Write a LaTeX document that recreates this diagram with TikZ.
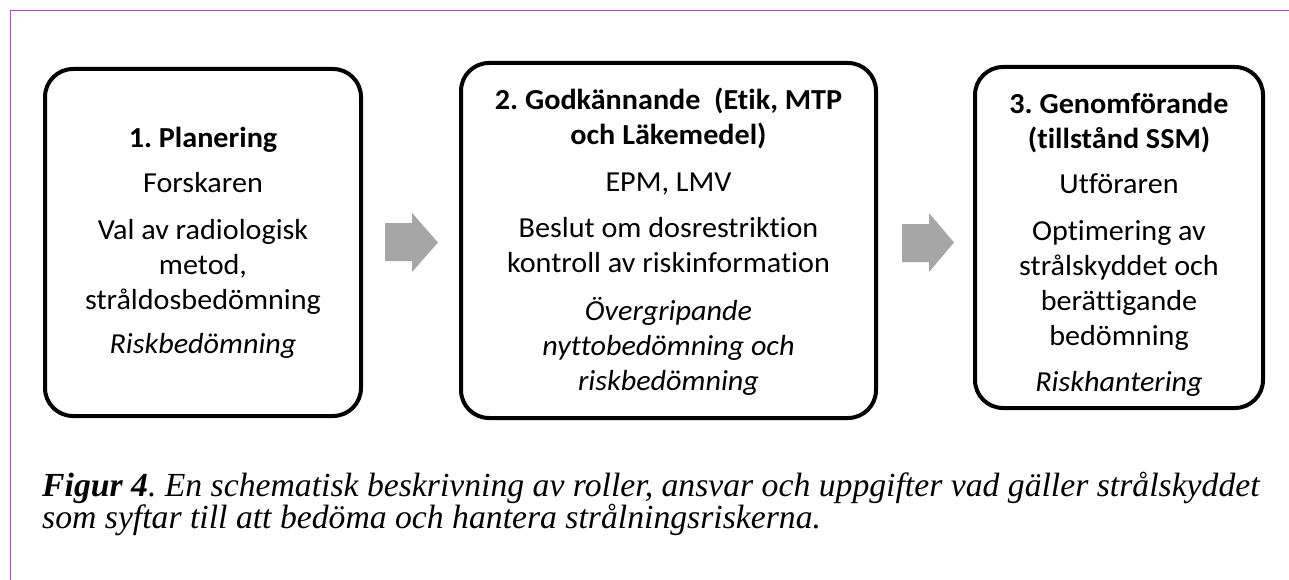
\documentclass[tikz,border=0pt]{standalone}
\usepackage{fontspec}
\setmainfont[Ligatures=NoCommon,FakeStretch=1.04]{Carlito}
\newfontfamily\capfont{Liberation Serif}
\definecolor{framepurple}{HTML}{B044B8}
\definecolor{arrowgray}{HTML}{A6A6A6}
\begin{document}
\frenchspacing
\begin{tikzpicture}[x=1pt,y=-1pt,
  stagebox/.style={draw=black, line width=4pt, rounded corners=28pt, inner sep=0pt},
  stagetext/.style={inner sep=0pt, align=center, text=black,
    font=\frenchspacing\fontsize{29}{35}\selectfont},
  blockarrow/.style={fill=arrowgray, draw=none},
  captext/.style={anchor=base west, inner sep=0pt, text=black,
    font=\frenchspacing\capfont\itshape\fontsize{33.7}{32}\selectfont}]
\useasboundingbox (0,0) rectangle (1289,580);
\fill[white] (0,0) rectangle (1289,580);
% frame
\draw[framepurple, line width=1.5pt] (10.5,580) -- (10.5,10.5) -- (1289,10.5);

% boxes
\node[stagebox, minimum width=316pt, minimum height=347pt] (b1) at (203,242.5) {};
\node[stagebox, minimum width=415pt, minimum height=355pt] (b2) at (668.5,240.5) {};
\node[stagebox, minimum width=288pt, minimum height=341pt] (b3) at (1119,237.5) {};

% texts
\node[stagetext] (t1) at (203,243)
  {\textbf{1. Planering}\\[10pt]
   Forskaren\\[12pt]
   Val av radiologisk\\ metod,\\ stråldosbedömning\\[9pt]
   \textit{Riskbedömning}};

\node[stagetext] (t2) at (668.5,242)
  {\textbf{2. Godkännande\ \ (Etik, MTP}\\ \textbf{och Läkemedel)}\\[12pt]
   EPM, LMV\\[11pt]
   Beslut om dosrestriktion\\ kontroll av riskinformation\\[13pt]
   \textit{Övergripande}\\ \textit{nyttobedömning och}\\ \textit{riskbedömning}};

\node[stagetext] (t3) at (1119,244.5)
  {\textbf{3. Genomförande}\\ \textbf{(tillstånd SSM)}\\[10pt]
   Utföraren\\[12pt]
   Optimering av\\ strålskyddet och\\ berättigande\\ bedömning\\[11pt]
   \textit{Riskhantering}};

% block arrows
\fill[blockarrow] (385,223) -- (412,223) -- (412,213) -- (438,242.5) -- (412,272) -- (412,261) -- (385,261) -- cycle;
\fill[blockarrow] (902,224) -- (929,224) -- (929,213) -- (954,242.5) -- (929,272) -- (929,262) -- (902,262) -- cycle;

% caption
\node[captext] (cap1) at (42,496)
  {\textbf{Figur 4}. En schematisk beskrivning av roller, ansvar och uppgifter vad gäller strålskyddet};
\node[captext] (cap2) at (42,528)
  {som syftar till att bedöma och hantera strålningsriskerna.};
\end{tikzpicture}
\end{document}
